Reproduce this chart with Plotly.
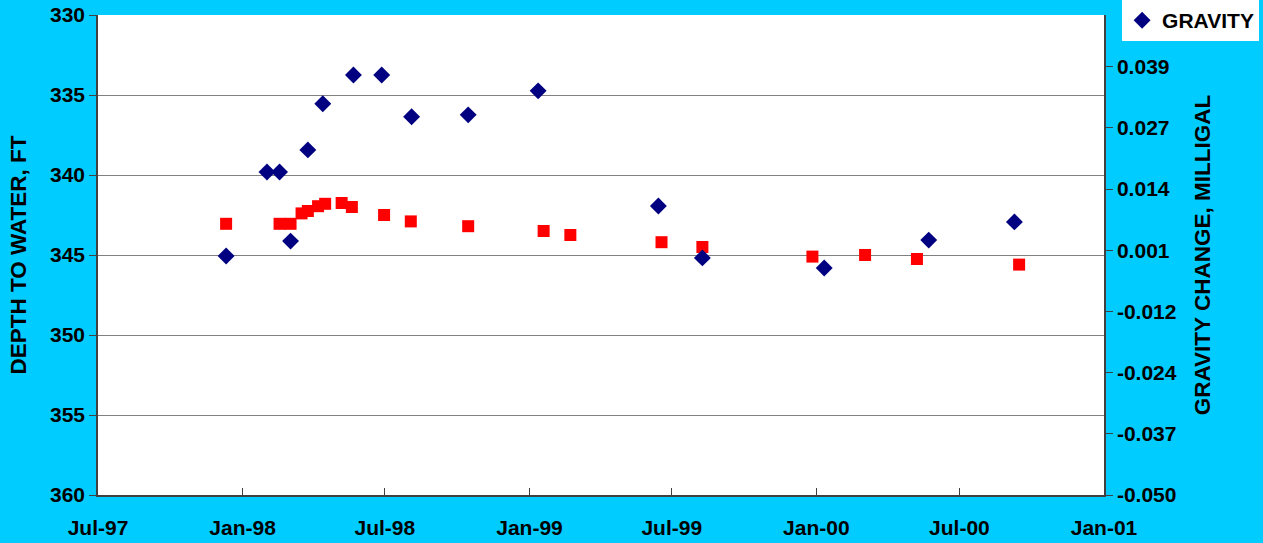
import plotly.graph_objects as go

# depth to water (left axis, reversed)
depth_dates = ['1997-12-11', '1998-02-17', '1998-03-03', '1998-03-17', '1998-03-25',
               '1998-04-07', '1998-04-16', '1998-05-07', '1998-05-20', '1998-06-30',
               '1998-08-03', '1998-10-15', '1999-01-19', '1999-02-22', '1999-06-18',
               '1999-08-09', '1999-12-27', '2000-03-03', '2000-05-08', '2000-09-15']
depth_ft = [343.05, 343.05, 343.05, 342.4, 342.25,
            341.95, 341.8, 341.75, 342.0, 342.5,
            342.9, 343.2, 343.5, 343.75, 344.2,
            344.5, 345.1, 345.0, 345.25, 345.6]

# gravity change (right axis)
grav_dates = ['1997-12-11', '1998-02-01', '1998-02-17', '1998-03-03', '1998-03-25',
              '1998-04-13', '1998-05-22', '1998-06-27', '1998-08-04', '1998-10-15',
              '1999-01-12', '1999-06-14', '1999-08-09', '2000-01-11', '2000-05-23',
              '2000-09-09']
gravity = [-0.0002, 0.0173, 0.0173, 0.0029, 0.0219,
           0.0315, 0.0375, 0.0375, 0.0288, 0.0292,
           0.0342, 0.0102, -0.0006, -0.0027, 0.0031,
           0.0069]

depth_ticks = [330, 335, 340, 345, 350, 355, 360]
grav_ticks = [-0.05 + k * 0.01275 for k in range(8)]
grav_labels = ['-0.050', '-0.037', '-0.024', '-0.012', '0.001', '0.014', '0.027', '0.039']
date_ticks = ['1997-07-01', '1998-01-01', '1998-07-01', '1999-01-01',
              '1999-07-01', '2000-01-01', '2000-07-01', '2001-01-01']
date_labels = ['Jul-97', 'Jan-98', 'Jul-98', 'Jan-99', 'Jul-99', 'Jan-00', 'Jul-00', 'Jan-01']


def bold(labels):
    return ['<b>%s</b>' % t for t in labels]


bg = '#00CCFF'
tick_font = dict(family='Liberation Sans', size=21, color='black')
title_font = dict(family='Liberation Sans', size=22.5, color='black')

fig = go.Figure()

fig.add_trace(go.Scatter(
    x=depth_dates, y=depth_ft,
    mode='markers',
    marker=dict(symbol='square', size=12, color='#FF0000'),
    name='DEPTH',
    showlegend=False,
    yaxis='y'
))

fig.add_trace(go.Scatter(
    x=grav_dates, y=gravity,
    mode='markers',
    marker=dict(symbol='diamond', size=13, color='#000080'),
    name='<b>GRAVITY</b>',
    yaxis='y2'
))

fig.update_layout(
    width=1263, height=543,
    paper_bgcolor=bg,
    plot_bgcolor='white',
    margin=dict(l=98, r=159, t=15, b=48, autoexpand=False),
    showlegend=True,
    legend=dict(
        x=1.018, y=1.031, xanchor='left', yanchor='top',
        bgcolor='white',
        font=dict(family='Liberation Sans', size=21, color='black'),
        itemwidth=30,
    ),
    xaxis=dict(
        type='date',
        range=['1997-07-01', '2001-01-01'],
        tickvals=date_ticks, ticktext=bold(date_labels),
        ticks='inside', ticklen=7, tickcolor='#404040',
        showgrid=False,
        showline=True, linecolor='#404040', linewidth=1.5,
        tickfont=tick_font,
        ticklabelstandoff=13,
    ),
    yaxis=dict(
        range=[360, 330],
        tickvals=depth_ticks, ticktext=bold([str(v) for v in depth_ticks]),
        ticks='outside', ticklen=7, tickcolor='#404040',
        showgrid=True, gridcolor='#808080', gridwidth=1,
        showline=True, linecolor='#404040', linewidth=1.5,
        zeroline=False,
        tickfont=tick_font,
        title=dict(text='<b>DEPTH TO WATER, FT</b>', font=title_font, standoff=17),
    ),
    yaxis2=dict(
        overlaying='y', side='right',
        range=[-0.05, 0.05],
        tickvals=grav_ticks, ticktext=bold(grav_labels),
        ticks='outside', ticklen=7, tickcolor='#404040',
        showgrid=False,
        showline=True, linecolor='#404040', linewidth=1.5,
        zeroline=False,
        tickfont=tick_font,
        title=dict(text='<b>GRAVITY CHANGE, MILLIGAL</b>', font=title_font, standoff=18),
    ),
)

fig.write_html('out.html', config={'displayModeBar': False},
               post_script="document.body.style.margin='0';document.body.style.background='#00CCFF';")
